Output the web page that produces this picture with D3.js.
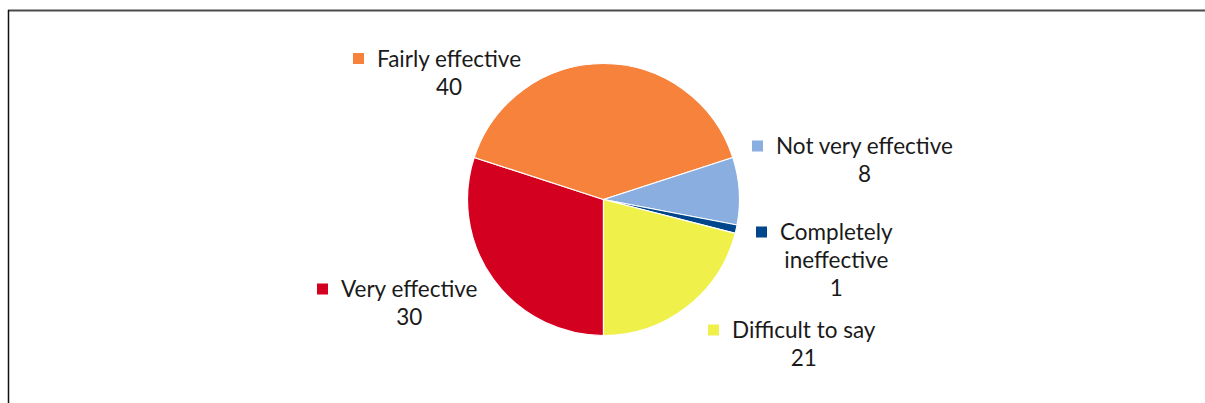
<!DOCTYPE html>
<html>
<head>
<meta charset="utf-8">
<script src="https://cdn.jsdelivr.net/npm/d3@7"></script>
<style>
  html, body { margin: 0; padding: 0; background: #fff; }
  svg { display: block; }
  text { font-family: Lato, "Noto Sans", sans-serif; fill: #1a1a1a; }
</style>
</head>
<body>
<svg id="chart" width="1205" height="403"></svg>
<script>
// Data
const categories = ["Very effective", "Fairly effective", "Not very effective", "Completely ineffective", "Difficult to say"];
const values = [30, 40, 8, 1, 21];
const colors = ["#D40020", "#F7823B", "#8AAEE0", "#00468C", "#F0F04A"];
// label lines per category (text wrapping as in the original)
const labelLines = [["Very effective"], ["Fairly effective"], ["Not very effective"], ["Completely", "ineffective"], ["Difficult to say"]];
// label anchor (square left x, first baseline y) per category
const labelPos = [[317, 297], [353, 66.5], [752, 154], [756, 240], [708, 338]];

const svg = d3.select("#chart");
const W = 1205, H = 403;

// frame
svg.append("line").attr("x1", 8).attr("x2", W).attr("y1", 10.5).attr("y2", 10.5)
  .attr("stroke", "#4a4a4a").attr("stroke-width", 2);
svg.append("line").attr("x1", 8.5).attr("x2", 8.5).attr("y1", 10).attr("y2", H)
  .attr("stroke", "#111").attr("stroke-width", 1.5);

const cx = 603.5, cy = 199.5, r = 136;
const pie = d3.pie().sort(null).value(d => d).startAngle(Math.PI).endAngle(3 * Math.PI);
const arcs = pie(values);
const arc = d3.arc().innerRadius(0).outerRadius(r);

const g = svg.append("g").attr("transform", `translate(${cx},${cy})`);
g.selectAll("path").data(arcs).join("path")
  .attr("d", arc)
  .attr("fill", (d, i) => colors[i])
  .attr("stroke", "#fff").attr("stroke-width", 1.2).attr("stroke-linejoin", "round");

// labels
const fs = 22.5, lh = 28;
const lg = svg.append("g");
categories.forEach((c, i) => {
  const [sx, by] = labelPos[i];
  const grp = lg.append("g");
  grp.append("rect").attr("x", sx).attr("y", by - 13.5).attr("width", 11).attr("height", 11)
    .attr("fill", colors[i]);
  const lines = labelLines[i];
  const tx = sx + 24;
  const texts = lines.map((ln, k) => grp.append("text")
    .attr("x", tx).attr("y", by + k * lh).attr("font-size", fs).text(ln));
  const w0 = texts[0].node().getComputedTextLength();
  const center = tx + w0 / 2;
  // subsequent wrapped lines centered under the first
  texts.slice(1).forEach(t => t.attr("x", center).attr("text-anchor", "middle"));
  grp.append("text").attr("x", center).attr("y", by + lines.length * lh)
    .attr("text-anchor", "middle").attr("font-size", fs).text(values[i]);
});
</script>
</body>
</html>
